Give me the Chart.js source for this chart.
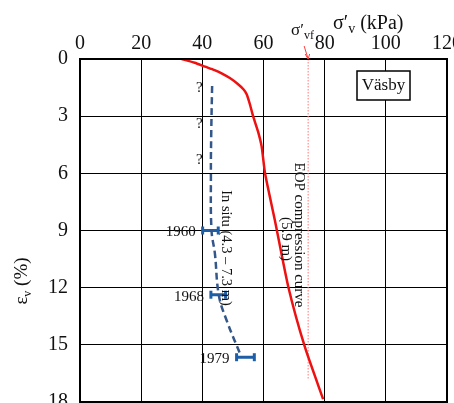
<!DOCTYPE html>
<html>
<head>
<meta charset="utf-8">
<script src="https://cdn.jsdelivr.net/npm/chart.js@4.4.1/dist/chart.umd.min.js"></script>
<style>
html,body{margin:0;padding:0;background:#fff;}
#wrap{width:454px;height:403px;position:relative;overflow:hidden;}
canvas{display:block;}
</style>
</head>
<body>
<div id="wrap"><canvas id="c" width="454" height="403"></canvas></div>
<script>
// ---- data ----
const xTicks = [0, 20, 40, 60, 80, 100, 120];
const yTicks = [0, 3, 6, 9, 12, 15, 18];

// EOP compression curve (5.9 m)
const eopStress = [33.2, 37.5, 40.9, 44.0, 46.3, 49.0, 51.5, 53.5, 54.5, 55.6, 56.6, 58.2, 59.4, 60.5, 63.7, 68.1, 73.5, 79.5];
const eopStrain = [0.0, 0.2, 0.4, 0.58, 0.75, 1.0, 1.3, 1.6, 1.85, 2.4, 3.0, 3.8, 4.6, 6.0, 8.45, 11.95, 15.1, 17.85];

// sigma'_vf vertical reference
const sigmaVf = 74.6;
const sigmaVfStrainEnd = 16.85;

// In situ (4.3 - 7.3 m) dashed trend
const insituStress = [43.2, 42.9, 42.8, 43.0, 44.1, 45.4, 47.9, 52.8];
const insituStrain = [1.42, 4.0, 6.0, 9.0, 10.2, 12.4, 13.7, 15.65];

// measured points with horizontal ranges
const years = ['1960', '1968', '1979'];
const yearStrain = [9.0, 12.37, 15.65];
const yearLow = [40.1, 42.8, 51.2];
const yearHigh = [45.2, 47.6, 57.0];

// question marks
const qStrain = [1.5, 3.4, 5.3];
const qStress = [39.0, 39.0, 39.0];

// ---- build datasets ----
const eopData = eopStress.map((x, i) => ({x, y: eopStrain[i]}));
const insituData = insituStress.map((x, i) => ({x, y: insituStrain[i]}));
const barData = [];
years.forEach((yr, i) => {
  barData.push({x: yearLow[i], y: yearStrain[i]});
  barData.push({x: yearHigh[i], y: yearStrain[i]});
  barData.push({x: null, y: null});
});

const SERIF = '"Liberation Serif", "Times New Roman", serif';
const AREA = {left: 80, top: 59, right: 447, bottom: 402};

function subText(ctx, parts, x, y, align) {
  let total = 0;
  parts.forEach(p => { ctx.font = p.size + 'px ' + SERIF; total += ctx.measureText(p.t).width; });
  let cx = align === 'center' ? x - total / 2 : (align === 'right' ? x - total : x);
  ctx.textAlign = 'left';
  parts.forEach(p => {
    ctx.font = p.size + 'px ' + SERIF;
    ctx.fillText(p.t, cx, y + (p.dy || 0));
    cx += ctx.measureText(p.t).width;
  });
}

// force the plot box to the reference frame
const fixArea = {
  id: 'fixArea',
  afterLayout(chart) {
    const ca = chart.chartArea, xs = chart.scales.x, ys = chart.scales.y;
    ca.left = AREA.left; ca.right = AREA.right; ca.top = AREA.top; ca.bottom = AREA.bottom;
    ca.width = ca.right - ca.left; ca.height = ca.bottom - ca.top;
    xs.left = AREA.left; xs.right = AREA.right; xs.width = ca.width;
    xs.bottom = AREA.top; xs.top = 0; xs.height = AREA.top;
    ys.top = AREA.top; ys.bottom = AREA.bottom; ys.height = ca.height;
    ys.left = 0; ys.right = AREA.left; ys.width = AREA.left;
    xs.configure(); ys.configure();
  }
};

const annot = {
  id: 'annot',
  afterDraw(chart) {
    const ctx = chart.ctx, xs = chart.scales.x, ys = chart.scales.y, a = chart.chartArea;
    ctx.save();
    ctx.strokeStyle = '#000'; ctx.lineWidth = 2;
    ctx.strokeRect(a.left, a.top, a.right - a.left, a.bottom - a.top);
    ctx.fillStyle = '#111';
    ctx.textBaseline = 'alphabetic';
    subText(ctx, [{t: 'σ′', size: 20}, {t: 'v', size: 14, dy: 4}, {t: ' (kPa)', size: 20}], 333, 29, 'left');
    subText(ctx, [{t: 'σ′', size: 17}, {t: 'vf', size: 12, dy: 4}], 291, 35, 'left');
    const vx = xs.getPixelForValue(sigmaVf);
    ctx.strokeStyle = '#ff3b3b'; ctx.lineWidth = 1;
    ctx.beginPath(); ctx.moveTo(vx - 4, 46); ctx.lineTo(vx, a.top); ctx.stroke();
    ctx.beginPath(); ctx.moveTo(vx - 3, a.top - 5); ctx.lineTo(vx, a.top); ctx.lineTo(vx + 1.5, a.top - 5); ctx.stroke();
    ctx.save();
    ctx.translate(27, 281);
    ctx.rotate(-Math.PI / 2);
    ctx.fillStyle = '#111';
    subText(ctx, [{t: 'ε', size: 19}, {t: 'v', size: 12, dy: 4}, {t: ' (%)', size: 19}], 0, 0, 'center');
    ctx.restore();
    ctx.fillStyle = '#fff';
    ctx.fillRect(357, 71, 53, 29);
    ctx.strokeStyle = '#000'; ctx.lineWidth = 1.5;
    ctx.strokeRect(357, 71, 53, 29);
    ctx.fillStyle = '#111';
    ctx.font = '17px ' + SERIF; ctx.textAlign = 'center'; ctx.textBaseline = 'middle';
    ctx.fillText('Väsby', 383.5, 86);
    ctx.font = '15px ' + SERIF;
    qStrain.forEach((s, i) => ctx.fillText('?', xs.getPixelForValue(qStress[i]), ys.getPixelForValue(s)));
    ctx.font = '15px ' + SERIF; ctx.textAlign = 'right';
    years.forEach((yr, i) => ctx.fillText(yr, xs.getPixelForValue(yearLow[i]) - 7, ys.getPixelForValue(yearStrain[i]) + 2));
    function rot(text, x, y, size) {
      ctx.save(); ctx.translate(x, y); ctx.rotate(Math.PI / 2);
      ctx.font = size + 'px ' + SERIF; ctx.textAlign = 'center'; ctx.textBaseline = 'middle';
      ctx.fillText(text, 0, 0); ctx.restore();
    }
    rot('In situ (4.3 – 7.3 m)', 226, 248, 14.5);
    rot('EOP compression curve', 299, 235, 15);
    rot('(5.9 m)', 286, 239, 15);
    ctx.restore();
  }
};

function zeroPad(s) { s.paddingLeft = 0; s.paddingRight = 0; s.paddingTop = 0; s.paddingBottom = 0; }

new Chart(document.getElementById('c'), {
  type: 'scatter',
  data: {
    datasets: [
      {data: eopData, showLine: true, borderColor: '#ee1111', borderWidth: 2.5, pointRadius: 0, tension: 0.2, fill: false},
      {data: [{x: sigmaVf, y: 0}, {x: sigmaVf, y: sigmaVfStrainEnd}], showLine: true, borderColor: '#ff7a7a', borderWidth: 1, borderDash: [1.5, 1.5], pointRadius: 0},
      {data: insituData, showLine: true, borderColor: '#34578a', borderWidth: 2.5, borderDash: [7, 4], pointRadius: 0, tension: 0.4},
      {data: barData, showLine: true, spanGaps: false, borderColor: '#1c5fa8', borderWidth: 3, pointRadius: 4, pointStyle: 'line', rotation: 90, pointBorderColor: '#1c5fa8', pointBorderWidth: 3}
    ]
  },
  options: {
    responsive: false,
    animation: false,
    layout: {padding: {left: 0, right: 7, top: 0, bottom: 1}},
    plugins: {legend: {display: false}, tooltip: {enabled: false}},
    scales: {
      x: {
        type: 'linear', position: 'top', min: 0, max: 120,
        afterBuildTicks: s => { s.ticks = xTicks.map(v => ({value: v})); },
        afterFit: s => { s.height = 59; zeroPad(s); },
        ticks: {autoSkip: false, maxRotation: 0, padding: 3, color: '#111', font: {family: SERIF, size: 20}},
        grid: {color: '#000', lineWidth: 1, tickLength: 0, drawTicks: false},
        border: {display: true, color: '#000', width: 2}
      },
      y: {
        type: 'linear', reverse: true, min: 0, max: 18,
        afterBuildTicks: s => { s.ticks = yTicks.map(v => ({value: v})); },
        afterFit: s => { s.width = 80; zeroPad(s); },
        ticks: {autoSkip: false, padding: 12, color: '#111', font: {family: SERIF, size: 20}},
        grid: {color: '#000', lineWidth: 1, tickLength: 0, drawTicks: false},
        border: {display: true, color: '#000', width: 2}
      }
    }
  },
  plugins: [fixArea, annot]
});
</script>
</body>
</html>
